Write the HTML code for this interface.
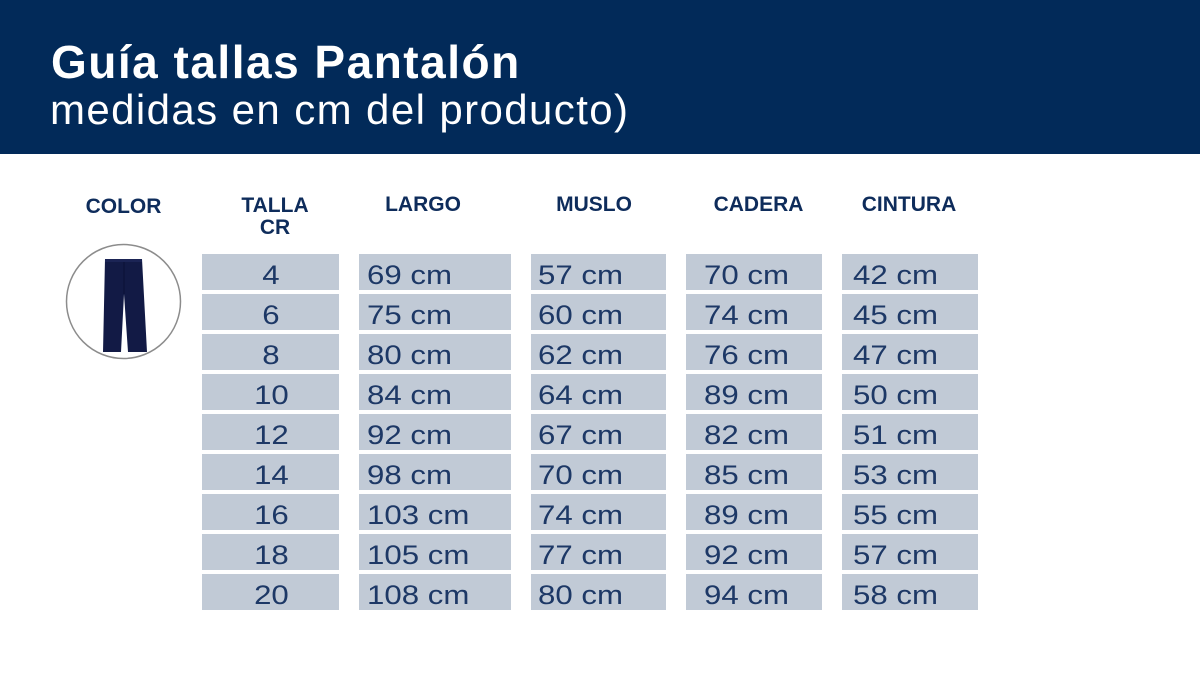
<!DOCTYPE html>
<html>
<head>
<meta charset="utf-8">
<style>
  html,body{margin:0;padding:0;background:#fff;}
  body{width:1200px;height:697px;overflow:hidden;}
  svg{display:block;}
  .hd{font-family:"Liberation Sans",sans-serif;font-weight:bold;font-size:21px;fill:#0e2c5b;}
  .cell{font-family:"Liberation Sans",sans-serif;font-size:27px;fill:#1d3866;}
</style>
</head>
<body>
<svg width="1200" height="697" viewBox="0 0 1200 697" xmlns="http://www.w3.org/2000/svg">
  <rect x="0" y="0" width="1200" height="697" fill="#ffffff"/>
  <!-- header band -->
  <rect x="0" y="0" width="1200" height="154" fill="#022a59"/>
  <text x="51" y="78" font-family="Liberation Sans, sans-serif" font-weight="bold" font-size="46" letter-spacing="1.5" fill="#ffffff">Guía tallas Pantalón</text>
  <text x="50" y="124" font-family="Liberation Sans, sans-serif" font-size="42" letter-spacing="1.4" fill="#ffffff">medidas en cm del producto)</text>

  <!-- column headers -->
  <text class="hd" x="123.5" y="213" text-anchor="middle">COLOR</text>
  <text class="hd" x="275" y="212" text-anchor="middle">TALLA</text>
  <text class="hd" x="275" y="234" text-anchor="middle">CR</text>
  <text class="hd" x="423" y="211" text-anchor="middle">LARGO</text>
  <text class="hd" x="594" y="211" text-anchor="middle">MUSLO</text>
  <text class="hd" x="758.5" y="211" text-anchor="middle">CADERA</text>
  <text class="hd" x="909" y="211" text-anchor="middle">CINTURA</text>

  <!-- product circle -->
  <circle cx="123.5" cy="301.5" r="57" fill="#ffffff" stroke="#8c8c8c" stroke-width="1.5"/>
  <polygon points="105,259 142,259 147,352 128,352 124,294 121,352 103,352" fill="#121a45"/>
  <line x1="124" y1="262" x2="124" y2="294" stroke="#0a1035" stroke-width="1"/>
  <rect x="105" y="259" width="37" height="3" fill="#1b2455"/>

  <!-- cells -->
  <g fill="#c1cad6">
    <rect x="202" y="254" width="137" height="36"/><rect x="359" y="254" width="152" height="36"/><rect x="531" y="254" width="135" height="36"/><rect x="686" y="254" width="136" height="36"/><rect x="842" y="254" width="136" height="36"/>
    <rect x="202" y="294" width="137" height="36"/><rect x="359" y="294" width="152" height="36"/><rect x="531" y="294" width="135" height="36"/><rect x="686" y="294" width="136" height="36"/><rect x="842" y="294" width="136" height="36"/>
    <rect x="202" y="334" width="137" height="36"/><rect x="359" y="334" width="152" height="36"/><rect x="531" y="334" width="135" height="36"/><rect x="686" y="334" width="136" height="36"/><rect x="842" y="334" width="136" height="36"/>
    <rect x="202" y="374" width="137" height="36"/><rect x="359" y="374" width="152" height="36"/><rect x="531" y="374" width="135" height="36"/><rect x="686" y="374" width="136" height="36"/><rect x="842" y="374" width="136" height="36"/>
    <rect x="202" y="414" width="137" height="36"/><rect x="359" y="414" width="152" height="36"/><rect x="531" y="414" width="135" height="36"/><rect x="686" y="414" width="136" height="36"/><rect x="842" y="414" width="136" height="36"/>
    <rect x="202" y="454" width="137" height="36"/><rect x="359" y="454" width="152" height="36"/><rect x="531" y="454" width="135" height="36"/><rect x="686" y="454" width="136" height="36"/><rect x="842" y="454" width="136" height="36"/>
    <rect x="202" y="494" width="137" height="36"/><rect x="359" y="494" width="152" height="36"/><rect x="531" y="494" width="135" height="36"/><rect x="686" y="494" width="136" height="36"/><rect x="842" y="494" width="136" height="36"/>
    <rect x="202" y="534" width="137" height="36"/><rect x="359" y="534" width="152" height="36"/><rect x="531" y="534" width="135" height="36"/><rect x="686" y="534" width="136" height="36"/><rect x="842" y="534" width="136" height="36"/>
    <rect x="202" y="574" width="137" height="36"/><rect x="359" y="574" width="152" height="36"/><rect x="531" y="574" width="135" height="36"/><rect x="686" y="574" width="136" height="36"/><rect x="842" y="574" width="136" height="36"/>
  </g>

  <g transform="scale(1.156,1)">
    <!-- talla -->
    <text class="cell" x="234.4" y="284" text-anchor="middle">4</text>
    <text class="cell" x="234.4" y="324" text-anchor="middle">6</text>
    <text class="cell" x="234.4" y="364" text-anchor="middle">8</text>
    <text class="cell" x="234.8" y="404" text-anchor="middle">10</text>
    <text class="cell" x="234.8" y="444" text-anchor="middle">12</text>
    <text class="cell" x="234.8" y="484" text-anchor="middle">14</text>
    <text class="cell" x="234.8" y="524" text-anchor="middle">16</text>
    <text class="cell" x="234.8" y="564" text-anchor="middle">18</text>
    <text class="cell" x="234.8" y="604" text-anchor="middle">20</text>

    <!-- largo -->
    <text class="cell" x="317.5" y="284">69 cm</text>
    <text class="cell" x="317.5" y="324">75 cm</text>
    <text class="cell" x="317.5" y="364">80 cm</text>
    <text class="cell" x="317.5" y="404">84 cm</text>
    <text class="cell" x="317.5" y="444">92 cm</text>
    <text class="cell" x="317.5" y="484">98 cm</text>
    <text class="cell" x="317.5" y="524">103 cm</text>
    <text class="cell" x="317.5" y="564">105 cm</text>
    <text class="cell" x="317.5" y="604">108 cm</text>

    <!-- muslo -->
    <text class="cell" x="465.4" y="284">57 cm</text>
    <text class="cell" x="465.4" y="324">60 cm</text>
    <text class="cell" x="465.4" y="364">62 cm</text>
    <text class="cell" x="465.4" y="404">64 cm</text>
    <text class="cell" x="465.4" y="444">67 cm</text>
    <text class="cell" x="465.4" y="484">70 cm</text>
    <text class="cell" x="465.4" y="524">74 cm</text>
    <text class="cell" x="465.4" y="564">77 cm</text>
    <text class="cell" x="465.4" y="604">80 cm</text>

    <!-- cadera -->
    <text class="cell" x="609" y="284">70 cm</text>
    <text class="cell" x="609" y="324">74 cm</text>
    <text class="cell" x="609" y="364">76 cm</text>
    <text class="cell" x="609" y="404">89 cm</text>
    <text class="cell" x="609" y="444">82 cm</text>
    <text class="cell" x="609" y="484">85 cm</text>
    <text class="cell" x="609" y="524">89 cm</text>
    <text class="cell" x="609" y="564">92 cm</text>
    <text class="cell" x="609" y="604">94 cm</text>

    <!-- cintura -->
    <text class="cell" x="737.9" y="284">42 cm</text>
    <text class="cell" x="737.9" y="324">45 cm</text>
    <text class="cell" x="737.9" y="364">47 cm</text>
    <text class="cell" x="737.9" y="404">50 cm</text>
    <text class="cell" x="737.9" y="444">51 cm</text>
    <text class="cell" x="737.9" y="484">53 cm</text>
    <text class="cell" x="737.9" y="524">55 cm</text>
    <text class="cell" x="737.9" y="564">57 cm</text>
    <text class="cell" x="737.9" y="604">58 cm</text>
  </g>
</svg>
</body>
</html>
